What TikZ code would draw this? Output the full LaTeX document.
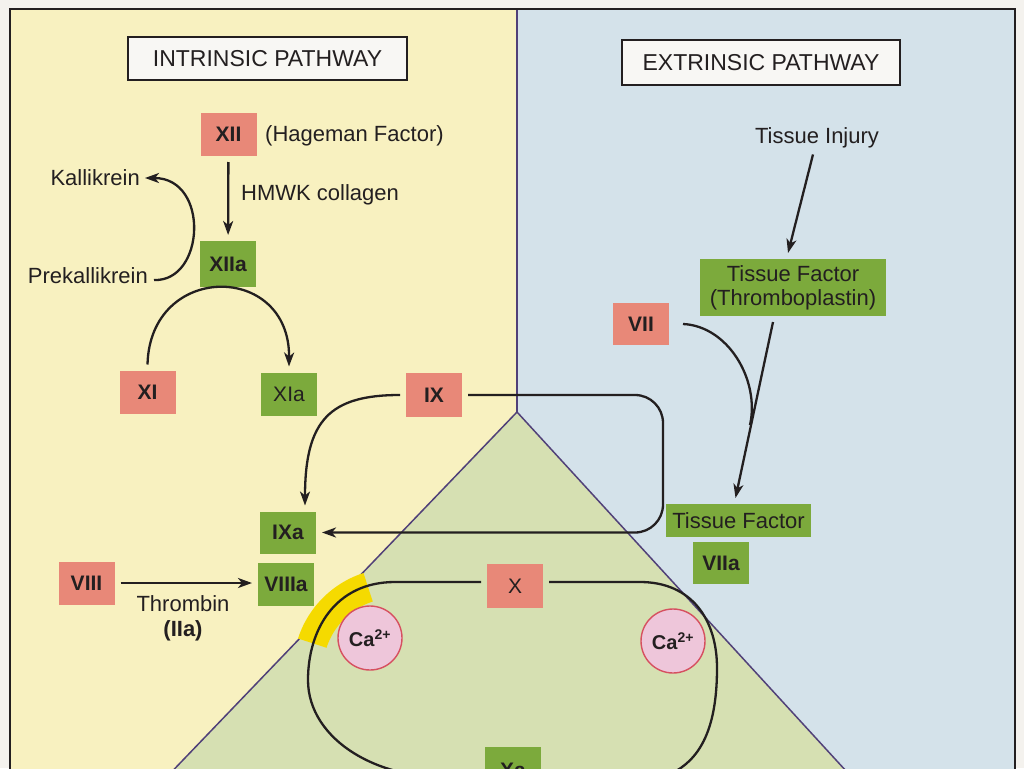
\documentclass[tikz,border=0pt]{standalone}
\usepackage{fontspec}
\setmainfont{Liberation Sans}
\usetikzlibrary{arrows.meta,calc}
\definecolor{paleyellow}{RGB}{248,241,192}
\definecolor{paleblue}{RGB}{212,226,234}
\definecolor{palegreen}{RGB}{214,224,178}
\definecolor{boxred}{RGB}{232,136,120}
\definecolor{boxgreen}{RGB}{124,170,60}
\definecolor{bandyellow}{RGB}{245,218,0}
\definecolor{capink}{RGB}{238,198,218}
\definecolor{cared}{RGB}{214,80,96}
\definecolor{ink}{RGB}{35,31,32}
\definecolor{divider}{RGB}{80,64,120}
\definecolor{paper}{RGB}{244,242,238}
\definecolor{headfill}{RGB}{248,247,244}
\begin{document}
\begin{tikzpicture}[x=1pt,y=-1pt,
  factor/.style={minimum width=56pt, minimum height=43pt, inner sep=0pt, outer sep=6pt, text=ink, font=\fontsize{21}{23}\selectfont\bfseries},
  redbox/.style={factor, fill=boxred},
  greenbox/.style={factor, fill=boxgreen},
  regular/.style={font=\fontsize{21}{23}\selectfont},
  header/.style={draw=ink, line width=2pt, fill=headfill, inner sep=0pt, text=ink, font=\fontsize{23}{25}\selectfont},
  plain/.style={text=ink, font=\fontsize{22}{24}\selectfont, inner sep=0pt},
  conn/.style={draw=ink, line width=2.3pt, -{Stealth[length=14pt,width=10pt,inset=4pt]}},
  wire/.style={draw=ink, line width=2.3pt},
  ion/.style={circle, minimum size=64pt, inner sep=0pt, fill=capink, draw=cared, line width=1.4pt, text=ink, font=\fontsize{20}{22}\selectfont\bfseries}
]
\useasboundingbox (0,0) rectangle (1024,768);
% background regions
\fill[paper] (0,0) rectangle (1024,768);
\fill[paleyellow] (10,9) rectangle (517,790);
\fill[paleblue] (517,9) rectangle (1015,790);
\fill[palegreen] (517,412) -- (160,784) -- (858,784) -- cycle;
\draw[divider, line width=1.5pt] (517,9) -- (517,412);
\draw[divider, line width=1.5pt] (160,784) -- (517,412) -- (858,784);
\draw[ink, line width=2.4pt] (10,790) -- (10,9) -- (1015,9) -- (1015,790);
% yellow band
\fill[bandyellow] plot[domain=108:162,samples=30] ({395+102*cos(\x)},{670-102*sin(\x)})
  -- plot[domain=162:108,samples=30] ({395+72*cos(\x)},{670-72*sin(\x)}) -- cycle;

% headers
\node[header, minimum width=279pt, minimum height=43pt] (inthead) at (267.5,58.5) {INTRINSIC PATHWAY};
\node[header, minimum width=278pt, minimum height=45pt] (exthead) at (761,62.5) {EXTRINSIC PATHWAY};

% intrinsic nodes
\node[redbox] (XII) at (228.5,134.5) {XII};
\node[plain, anchor=west] (hag) at (265,136) {(Hageman Factor)};
\node[greenbox, minimum height=46pt] (XIIa) at (228,264) {XIIa};
\node[plain, anchor=west] (hmwk) at (241,195) {HMWK collagen};
\node[plain, anchor=east] (kal) at (140,178) {Kallikrein};
\node[plain, anchor=east] (prek) at (148,276) {Prekallikrein};
\node[redbox] (XI) at (147.5,392) {XI};
\node[greenbox, regular] (XIa) at (289,394) {XIa};
\node[redbox, minimum height=44pt] (IX) at (434,395) {IX};
\node[greenbox, minimum height=42pt] (IXa) at (288,532.5) {IXa};
\node[greenbox] (VIIIa) at (286,584.5) {VIIIa};
\node[redbox] (VIII) at (86.5,583) {VIII};
\node[plain] (thr) at (183,604) {Thrombin};
\node[plain, font=\fontsize{22}{24}\selectfont\bfseries] (iia) at (183,631) {(IIa)};

% extrinsic nodes
\node[plain] (inj) at (817,138) {Tissue Injury};
\node[greenbox, font=\fontsize{22}{24}\selectfont, minimum width=186pt, minimum height=57pt, align=center] (TF) at (793,287.5) {Tissue Factor\\(Thromboplastin)};
\node[redbox, minimum height=42pt] (VII) at (641,324) {VII};
\node[greenbox, font=\fontsize{22}{24}\selectfont, minimum width=145pt, minimum height=33pt] (TF2) at (738.5,520.5) {Tissue Factor};
\node[greenbox, minimum height=42pt] (VIIa) at (721,563) {VIIa};

% common pathway
\node[redbox, regular, minimum height=44pt] (X) at (515,586) {X};
\node[greenbox, minimum height=46pt] (Xa) at (513,770) {Xa};
\node[ion] (ca1) at (370,638) {Ca\textsuperscript{2+}};
\node[ion] (ca2) at (673,641) {Ca\textsuperscript{2+}};

% connectors
\draw[conn] (XII) -- (XIIa);
\draw[conn] ($(prek.east)+(6,4)$) .. controls (205,282) and (210,178) .. ($(kal.east)+(5,0)$);
\draw[conn] (XI.north) .. controls (150,262) and (290,262) .. (XIa.north);
\draw[conn] (IX.west) .. controls (330,395) and (305,420) .. ($(IXa.north)+(17,0)$);
\draw[conn, rounded corners=28pt] (IX.east) -- (663,395) -- (663,532.5) -- (IXa.east);
\draw[conn] (VIII.east) -- (VIII.east -| VIIIa.west);
\draw[conn] ($(inj.south)+(-4,6)$) -- ($(TF.north)+(-5,0)$);
\draw[conn] ($(TF.south)+(-20,0)$) -- ($(TF2.north)+(-3,0)$);
\draw[wire] ($(VII.east)+(8,0)$) .. controls (728,326) and (760,380) .. (750,425);
\draw[conn] ($(X.west)+(0,-4)$) -- (395,582) .. controls (335,582) and (308,630) .. (308,680)
  .. controls (308,740) and (380,785) .. ($(Xa.west)+(0,6)$);
\draw[conn] ($(X.east)+(0,-4)$) -- (640,582) .. controls (692,582) and (717,620) .. (717,668)
  .. controls (717,780) and (660,795) .. ($(Xa.east)+(0,6)$);
\end{tikzpicture}
\end{document}
